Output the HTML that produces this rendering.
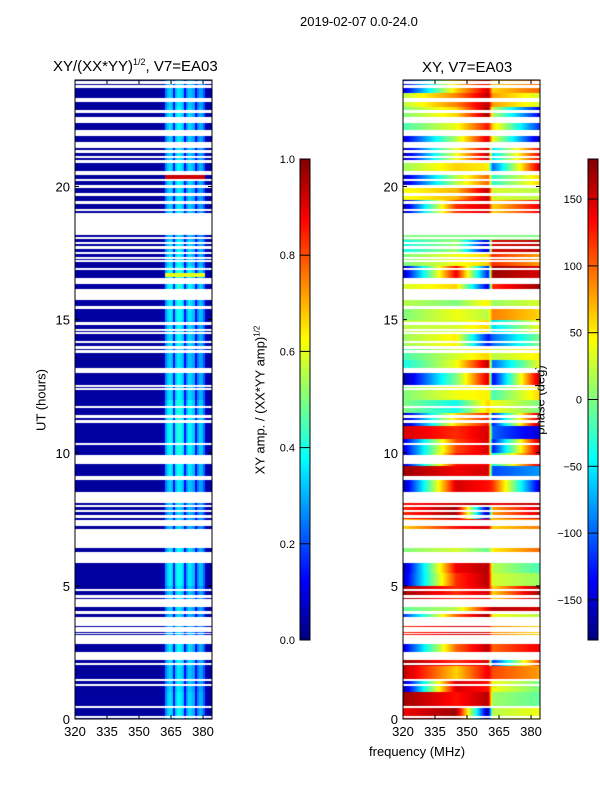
<!DOCTYPE html>
<html><head><meta charset="utf-8">
<style>
body{margin:0;background:#fff;width:600px;height:800px;overflow:hidden;position:relative;font-family:"Liberation Sans",sans-serif;color:#000}
.t{position:absolute;white-space:nowrap;font-size:12px}
canvas{position:absolute}
</style></head><body>
<div class="t" style="left:300px;top:14px;font-size:13px">2019-02-07 0.0-24.0</div>
<div class="t" style="left:53px;top:57px;font-size:15px">XY/(XX*YY)<sup style="font-size:9px">1/2</sup>, V7=EA03</div>
<div class="t" style="left:422px;top:59px;font-size:15px">XY, V7=EA03</div>
<div class="t" style="left:41px;top:400px;transform:translate(-50%,-50%) rotate(-90deg);font-size:13px">UT (hours)</div>
<div class="t" style="left:260px;top:400px;transform:translate(-50%,-50%) rotate(-90deg);font-size:13px">XY amp. / (XX*YY amp)<sup style="font-size:8px">1/2</sup></div>
<div class="t" style="left:540px;top:400px;transform:translate(-50%,-50%) rotate(-90deg);font-size:13px">phase (deg)</div>
<div class="t" style="left:369px;top:744px;font-size:13px">frequency (MHz)</div>
<canvas id="cL" width="137" height="639" style="left:75px;top:80px"></canvas>
<canvas id="cR" width="137" height="639" style="left:403px;top:80px"></canvas>
<canvas id="cb1" width="10" height="481" style="left:300px;top:159px"></canvas>
<canvas id="cb2" width="10" height="481" style="left:588px;top:159px"></canvas>
<svg id="ov" width="600" height="800" style="position:absolute;left:0;top:0"></svg>
<script>
// ---- data ----
const flags=[[23.88,23.96],[23.7,23.78],[23.2,23.3],[22.78,22.86],[22.4,22.6],[21.9,22.1],[21.45,21.67],[21.28,21.34],[21.08,21.14],[20.9,20.96],[20.45,20.55],[20.22,20.28],[19.96,20.02],[19.66,19.72],[19.38,19.44],[19.08,19.14],[18.2,19.0],[18.03,18.08],[17.85,17.9],[17.68,17.73],[17.48,17.53],[17.28,17.33],[17.17,17.22],[16.88,16.93],[16.35,16.55],[15.75,16.15],[15.4,15.5],[14.83,14.88],[14.58,14.63],[14.48,14.52],[14.13,14.18],[13.93,13.98],[13.78,13.83],[13.0,13.18],[12.48,12.53],[12.38,12.42],[11.7,11.75],[11.15,11.22],[11.32,11.4],[10.31,10.36],[9.6,9.9],[8.98,9.1],[8.4,8.5],[8.15,8.34],[7.98,8.03],[7.78,7.83],[7.58,7.63],[7.25,7.47],[6.46,7.1],[6.17,6.27],[5.86,6.15],[4.83,4.88],[4.58,4.63],[4.24,4.47],[3.98,4.05],[3.53,3.8],[3.38,3.42],[3.28,3.32],[3.2,3.23],[2.9,3.15],[2.83,2.87],[2.25,2.48],[2.03,2.1],[1.44,1.49],[1.26,1.31],[0.43,0.48],[0.05,0.1]];
const ampCols=[.03,.03,.03,.03,.03,.03,.03,.03,.03,.03,.03,.03,.03,.03,.03,.03,.03,.03,.03,.03,.03,.03,.03,.03,.03,.03,.03,.03,.03,.03,.03,.03,.03,.03,.03,.03,.03,.03,.03,.03,.03,.06,.26,.32,.35,.33,.14,.33,.37,.36,.32,.13,.28,.34,.33,.3,.12,.25,.3,.29,.22,.06,.04,.04];
const ampGain=[1,.95,1,.9,.95,1.05,1,.9,.95,1.05,1.1,1.1,1,.95,1,1.05,1.1,1.0,.9,.95,1,.95,1,.95];
const hotRows=[[20.3,20.42,.92],[16.6,16.75,.6],[18.05,18.1,.7]];
const phFreq=[320,345,360,362,384];
const phase=[[140,170,-170,20,40],[170,130,160,10,-10],[-170,150,130,40,0],[160,60,140,110,80],[170,120,150,-120,120],[-150,100,160,100,140],[120,150,150,90,60],[-120,100,170,40,20],[-10,20,140,160,150],[170,120,150,60,170],[-160,120,160,30,10],[-170,140,160,20,-20],[0,30,-10,50,100],[0,0,0,0,0],[60,130,150,60,90],[120,170,-170,80,150],[130,150,170,140,160],[-170,150,130,120,-150],[170,140,150,-110,-80],[-160,130,140,-40,150],[-150,110,150,-130,160],[150,120,150,-100,-150],[-170,60,130,-130,170],[0,-40,60,40,0],[0,40,50,-20,60],[-170,0,150,-140,160],[-40,40,160,-100,40],[-20,30,60,20,50],[10,50,-130,-100,0],[20,30,60,-60,40],[0,40,20,90,60],[20,0,50,10,30],[30,60,-150,120,170],[-160,140,-130,170,150],[0,40,60,120,80],[-40,10,-160,150,160],[0,0,0,0,0],[0,0,0,0,0],[-170,120,150,60,140],[40,70,160,30,20],[-160,20,100,-30,60],[10,60,50,-100,150],[-170,40,160,-60,140],[-150,20,150,40,-160],[-20,40,130,60,-120],[0,60,170,20,-140],[20,90,160,80,30],[-150,60,150,60,100]];
const xTicks=[320,335,350,365,380];
const yTicks=[0,5,10,15,20];
const ampTicks=[0.0,0.2,0.4,0.6,0.8,1.0];
const phTicks=[-150,-100,-50,0,50,100,150];
// ---- scales ----
const W=137,H=639,F0=320,F1=384.2,T0=0,T1=24;
const xs=f=>(f-F0)/(F1-F0)*W, ys=t=>H-(t-T0)/(T1-T0)*H;
const xinv=x=>F0+x/W*(F1-F0), yinv=y=>T0+(H-y)/H*(T1-T0);
function jet(v){v=Math.max(0,Math.min(1,v));const c=x=>Math.round(255*Math.max(0,Math.min(1,x)));
return `rgb(${c(1.5-Math.abs(4*v-3))},${c(1.5-Math.abs(4*v-2))},${c(1.5-Math.abs(4*v-1))})`}
function flaggedPx(y){const ta=yinv(y+1),tb=yinv(y);return flags.some(f=>tb>f[0]&&ta<f[1]);}
function draw(id,fn){const ctx=document.getElementById(id).getContext('2d');
 for(let y=0;y<H;y++){if(flaggedPx(y))continue;const t=yinv(y+.5);
  for(let x=0;x<W;x++){const v=fn(t,xinv(x+.5));ctx.fillStyle=jet(v);ctx.fillRect(x,y,1,1);}}}
draw('cL',(t,f)=>{const ci=Math.min(ampCols.length-1,Math.floor(f-F0));let v=ampCols[ci]*ampGain[Math.min(23,Math.floor(t))];
 for(const h of hotRows)if(t>=h[0]&&t<h[1]&&ci>=42&&ci<61)v=h[2];return v;});
draw('cR',(t,f)=>{const row=phase[Math.min(47,Math.floor(t*2))];let i=0;while(i<phFreq.length-2&&f>phFreq[i+1])i++;
 const a=(f-phFreq[i])/(phFreq[i+1]-phFreq[i]);const p=row[i]+(row[i+1]-row[i])*Math.max(0,Math.min(1,a));return (p+180)/360;});
['cb1','cb2'].forEach(id=>{const ctx=document.getElementById(id).getContext('2d');for(let y=0;y<481;y++){ctx.fillStyle=jet(1-y/480);ctx.fillRect(0,y,10,1);}});
// ---- axes overlay ----
const svg=document.getElementById('ov'),NS='http://www.w3.org/2000/svg';
function el(tag,attrs,txt){const e=document.createElementNS(NS,tag);for(const k in attrs)e.setAttribute(k,attrs[k]);if(txt!=null)e.textContent=txt;svg.appendChild(e);return e;}
[[75,'left'],[403,'right']].forEach(([X,nm])=>{
 const fr=el('rect',{x:X,y:80,width:W,height:H,fill:'none',stroke:'#000','stroke-width':1});
 
 
 xTicks.forEach(v=>{const x=X+xs(v);
  el('line',{x1:x,x2:x,y1:719,y2:715,stroke:'#000'});el('line',{x1:x,x2:x,y1:80,y2:84,stroke:'#000'});
  const tx=el('text',{x:x,y:736,'text-anchor':'middle','font-size':13,'font-family':'Liberation Sans'},v);
  
  });
 yTicks.forEach(v=>{const y=80+ys(v);
  el('line',{x1:X,x2:X+4,y1:y,y2:y,stroke:'#000'});el('line',{x1:X+W,x2:X+W-4,y1:y,y2:y,stroke:'#000'});
  const tx=el('text',{x:X-5,y:y+5,'text-anchor':'end','font-size':13,'font-family':'Liberation Sans'},v);
  
  });
});
el('rect',{x:300,y:159,width:10,height:481,fill:'none',stroke:'#000'});
el('rect',{x:588,y:159,width:10,height:481,fill:'none',stroke:'#000'});
ampTicks.forEach(v=>{const y=640-v*481;el('line',{x1:300,x2:310,y1:y,y2:y,stroke:'#000'});
 const tx=el('text',{x:295,y:y+4,'text-anchor':'end','font-size':11,'font-family':'Liberation Sans'},v.toFixed(1));
 
 });
phTicks.forEach(v=>{const y=399.5-v*481/360;el('line',{x1:588,x2:598,y1:y,y2:y,stroke:'#000'});
 const tx=el('text',{x:582,y:y+4,'text-anchor':'end','font-size':11,'font-family':'Liberation Sans'},v<0?'\u2212'+(-v):v);
 
 });
</script>
</body></html>
